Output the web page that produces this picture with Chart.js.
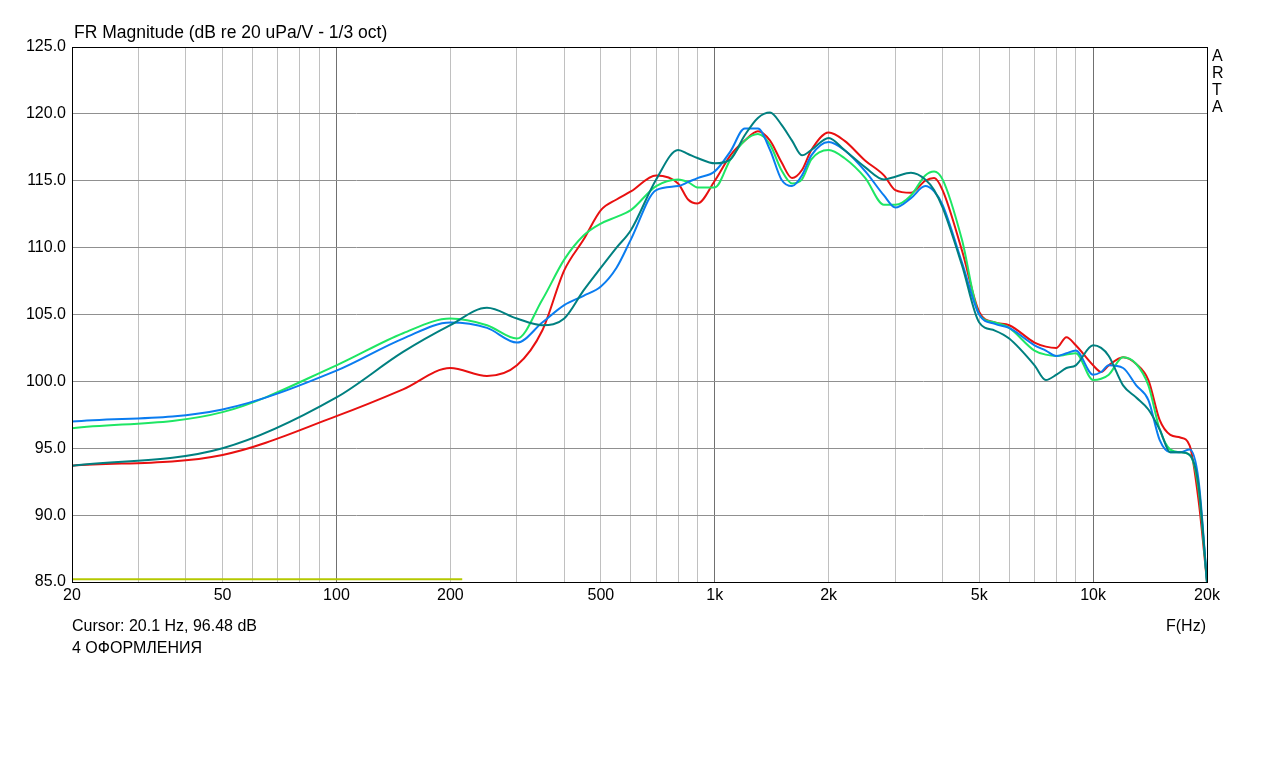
<!DOCTYPE html>
<html><head><meta charset="utf-8">
<script src="https://cdn.jsdelivr.net/npm/chart.js@4"></script>
<style>
body{margin:0;background:#fff;font-family:"Liberation Sans",Arial,sans-serif;}
#wrap{position:absolute;left:0;top:0;width:1279px;height:768px;}
.t{position:absolute;font-size:16px;color:#000;white-space:nowrap;}
</style></head><body>
<div id="wrap"><canvas id="c" width="1279" height="768"></canvas></div>
<div class="t" style="left:74px;top:22px;font-size:17.5px">FR Magnitude (dB re 20 uPa/V - 1/3 oct)</div>
<div class="t" style="left:1212px;top:47px;line-height:17px;width:10px">A<br>R<br>T<br>A</div>
<div class="t" style="left:72px;top:617px">Cursor: 20.1 Hz, 96.48 dB</div>
<div class="t" style="left:1166px;top:617px">F(Hz)</div>
<div class="t" style="left:72px;top:639px">4 ОФОРМЛЕНИЯ</div>
<script>
const freqs=[20,50,100,150,200,250,300,350,400,450,500,550,600,700,800,850,900,1000,1100,1200,1300,1400,1500,1600,1700,1800,2000,2200,2500,2800,3000,3300,3600,3800,4000,4500,5000,5500,6000,7000,7500,8000,8500,9000,10000,10500,11000,12000,13000,14000,15000,16000,17000,18000,19000,20000];
const red=[93.7,94.5,97.4,99.4,101.0,100.4,101.2,103.8,108.3,110.6,112.8,113.6,114.2,115.4,114.8,113.6,113.3,115.0,116.9,118.0,118.7,118.0,116.4,115.2,115.8,117.3,118.6,118.0,116.5,115.4,114.3,114.1,115.0,115.2,114.3,109.8,105.2,104.4,104.2,102.9,102.6,102.5,103.3,102.7,101.2,100.7,101.2,101.8,101.3,100.1,97.1,96.0,95.8,95.2,91.1,85];
const blue=[97.0,97.9,100.8,103.2,104.4,104.0,102.9,104.4,105.7,106.4,107.1,108.5,110.6,114.3,114.6,114.9,115.2,115.7,117.2,118.9,118.9,117.3,115.1,114.6,115.4,116.9,117.9,117.3,115.7,113.9,113.0,113.7,114.6,114.2,113.2,108.9,105.0,104.3,104.0,102.7,102.3,101.9,102.1,102.3,100.5,100.7,101.2,101.0,99.7,98.6,95.6,94.7,94.7,94.9,92.6,85];
const green=[96.5,97.7,101.2,103.6,104.7,104.2,103.2,106.1,109.1,110.9,111.8,112.3,112.8,114.6,115.1,114.9,114.5,114.5,116.6,118.0,118.5,117.7,115.8,114.8,115.1,116.6,117.3,116.7,115.2,113.2,113.2,113.9,115.4,115.7,115.1,110.6,105.0,104.4,104.0,102.3,102.0,101.9,102.0,102.1,100.1,100.2,100.5,101.8,101.3,99.7,96.4,94.9,94.7,94.5,91.9,85];
const teal=[93.7,95.0,98.8,102.2,104.2,105.5,104.7,104.2,104.7,106.8,108.5,110.0,111.3,115.1,117.3,117.0,116.7,116.3,116.6,118.4,119.7,120.1,119.2,118.0,116.9,117.3,118.2,117.3,116.0,115.1,115.3,115.6,115.1,114.3,113.0,108.7,104.4,103.8,103.2,101.2,100.1,100.5,101.0,101.2,102.7,102.5,101.9,99.7,98.8,97.9,96.4,94.7,94.7,94.5,92.2,85];
const refFreqs=[20,215];
const refVals=[85.2,85.2];
const xLabels={20:'20',50:'50',100:'100',200:'200',500:'500',1000:'1k',2000:'2k',5000:'5k',10000:'10k',20000:'20k'};
const yTicks=[85,90,95,100,105,110,115,120,125];

function pts(xs,ys){return xs.map((x,i)=>({x:x,y:ys[i]}));}
const ds=(d,c)=>({data:pts(freqs,d),borderColor:c,borderWidth:2,pointRadius:0,cubicInterpolationMode:'monotone',fill:false});
new Chart(document.getElementById('c'),{
 type:'line',
 data:{datasets:[
  {data:pts(refFreqs,refVals),borderColor:'#b4c800',borderWidth:2,pointRadius:0},
  ds(teal,'#008080'),ds(blue,'#0a7cf0'),ds(green,'#1ee664'),ds(red,'#e81010')
 ]},
 options:{responsive:false,animation:false,
  layout:{padding:{left:0,right:72,top:47,bottom:160}},
  plugins:{legend:{display:false},tooltip:{enabled:false}},
  scales:{
   x:{type:'logarithmic',min:20,max:20000,
    afterBuildTicks:s=>{const t=[];for(let d=10;d<=10000;d*=10){for(let m=1;m<10;m++){const v=d*m;if(v>=20&&v<=20000)t.push({value:v});}}if(t[t.length-1].value!==20000)t.push({value:20000});s.ticks=t;},
    afterFit:s=>{s.height=26;},
    ticks:{autoSkip:false,maxRotation:0,color:'#000',font:{size:16,family:'Liberation Sans'},padding:4,callback:v=>xLabels[v]||''},
    grid:{color:c=>{const v=c.tick&&c.tick.value;return (v===100||v===1000||v===10000)?'#707070':'#c0c0c0';},lineWidth:1,drawTicks:false},
    border:{color:'#000'}},
   y:{min:85,max:125,
    afterBuildTicks:s=>{s.ticks=yTicks.map(v=>({value:v}));},
    afterFit:s=>{s.width=72;},
    ticks:{color:'#000',font:{size:16,family:'Liberation Sans'},padding:6,callback:v=>v.toFixed(1)},
    grid:{color:'#909090',lineWidth:1,drawTicks:false},
    border:{color:'#000'}}
  }},
 plugins:[{id:'box',afterDraw(ch){const a=ch.chartArea,x=ch.ctx;x.save();x.strokeStyle='#000';x.lineWidth=1;x.strokeRect(a.left+0.5,a.top+0.5,a.right-a.left,a.bottom-a.top);x.restore();}}]
});
</script></body></html>
